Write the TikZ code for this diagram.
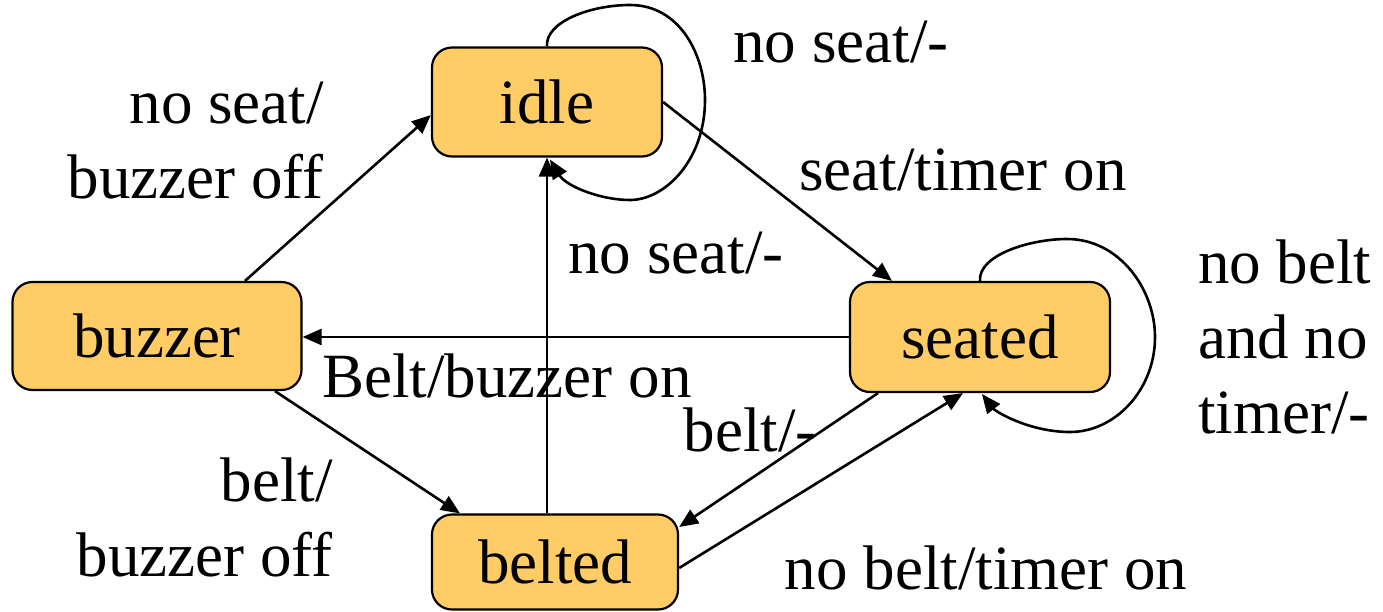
\documentclass[tikz,border=0pt]{standalone}
\usepackage{fontspec}
\setmainfont{Liberation Serif}
\usetikzlibrary{arrows.meta,calc}
\definecolor{statefill}{HTML}{FFCC66}
\begin{document}
\begin{tikzpicture}[x=1pt,y=-1pt,
  state/.style={draw=black,line width=2.2pt,fill=statefill,rounded corners=20pt,inner sep=0pt,font=\fontsize{63}{75}\selectfont},
  lbl/.style={inner sep=0pt,font=\fontsize{63}{75}\selectfont},
  tr/.style={line width=2.6pt,-{Triangle[length=19pt,width=16pt]}}]
\useasboundingbox (0,0) rectangle (1383,611);
\node[state,minimum width=230pt,minimum height=109pt] (idle) at (547,102) {idle};
\node[state,minimum width=260pt,minimum height=110pt] (seated) at (980,337) {seated};
\node[state,minimum width=289pt,minimum height=108pt] (buzzer) at (157,336) {buzzer};
\node[state,minimum width=246pt,minimum height=95pt] (belted) at (555,562) {belted};

\draw[tr] ([xshift=88pt]buzzer.north) -- ([yshift=-13pt]idle.west);
\draw[tr] (idle.east) -- ([xshift=-88pt]seated.north);
\draw[tr] (seated.west) -- (buzzer.east |- seated.west);
\draw[tr] ([xshift=118pt]buzzer.south) -- ([xshift=-95pt]belted.north);
\draw[tr] (idle.south |- belted.north) -- (idle.south);
\draw[tr] ([xshift=-102pt]seated.south) -- ([yshift=35pt]belted.east);
\draw[tr] ([yshift=-6pt]belted.east) -- ([xshift=-17pt]seated.south);
\draw[tr] (idle.north) .. controls (545,22) and (590,5) .. (630,5)
  .. controls (680,5) and (705,55) .. (705,100)
  .. controls (705,160) and (665,200) .. (630,200)
  .. controls (600,200) and (566,186) .. ([xshift=3pt,yshift=-2pt]idle.south);
\draw[tr] (seated.north) .. controls (978,255) and (1030,239) .. (1067,239)
  .. controls (1120,239) and (1155,290) .. (1155,337)
  .. controls (1155,390) and (1115,432) .. (1070,432)
  .. controls (1030,432) and (996,412) .. ([xshift=2pt,yshift=-1pt]seated.south);

\node[lbl,align=right,anchor=east] (l1) at (324,141) {no seat/\\buzzer off};
\node[lbl] (l2) at (841,42) {no seat/-};
\node[lbl] (l3) at (963,170) {seat/timer on};
\node[lbl] (l4) at (676,253) {no seat/-};
\node[lbl,align=left,anchor=west] (l5) at (1198,337) {no belt\\and no\\timer/-};
\node[lbl] (l6) at (507,376) {Belt/buzzer on};
\node[lbl] (l7) at (750,430) {belt/-};
\node[lbl,align=right,anchor=east] (l8) at (333,517) {belt/\\buzzer off};
\node[lbl] (l9) at (986,568) {no belt/timer on};
\end{tikzpicture}
\end{document}
